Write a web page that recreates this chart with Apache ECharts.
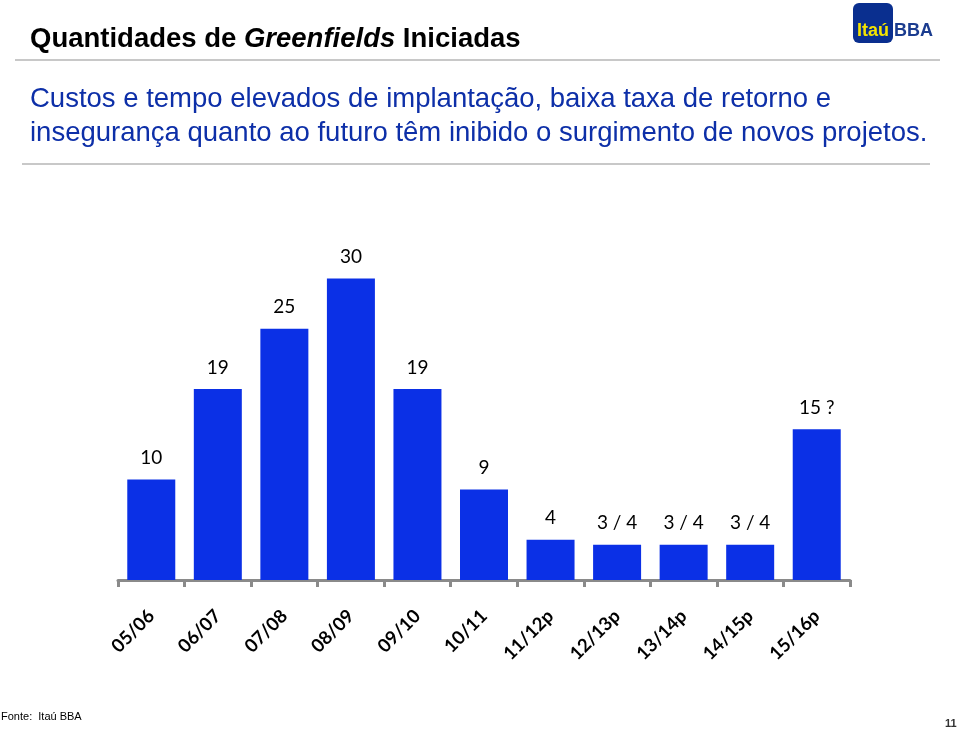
<!DOCTYPE html>
<html>
<head>
<meta charset="utf-8">
<script src="https://cdn.jsdelivr.net/npm/echarts@6/dist/echarts.min.js"></script>
<style>
html,body{margin:0;padding:0;background:#fff;}
#chart{width:960px;height:730px;}
</style>
</head>
<body>
<div id="chart"></div>
<script>
var categories = ['05/06','06/07','07/08','08/09','09/10','10/11','11/12p','12/13p','13/14p','14/15p','15/16p'];
var values = [10, 19, 25, 30, 19, 9, 4, 3.5, 3.5, 3.5, 15];
var valueLabels = ['10','19','25','30','19','9','4','3 / 4','3 / 4','3 / 4','15 ?'];

var chart = echarts.init(document.getElementById('chart'));
var option = {
  backgroundColor: '#ffffff',
  animation: false,
  title: {
    left: 30, top: 25, padding: 0,
    text: '{b|Quantidades de }{i|Greenfields}{b| Iniciadas}',
    textStyle: {
      rich: {
        b: {fontFamily: 'Liberation Sans, Arial', fontSize: 27.5, fontWeight: 'bold', color: '#000'},
        i: {fontFamily: 'Liberation Sans, Arial', fontSize: 27.5, fontWeight: 'bold', fontStyle: 'italic', color: '#000'}
      }
    }
  },
  grid: {left: 118, right: 110, top: 178, bottom: 150},
  xAxis: {
    type: 'category',
    data: categories,
    boundaryGap: true,
    axisLine: {show: true, lineStyle: {color: '#8a8a8a', width: 3}},
    axisTick: {show: true, length: 7, lineStyle: {color: '#8a8a8a', width: 3}},
    axisLabel: {rotate: 45, margin: 33, fontFamily: 'Lato, Open Sans', fontWeight: 'bold', fontSize: 18.5, color: '#000'}
  },
  yAxis: {type: 'value', min: 0, max: 40, show: false, splitLine: {show: false}},
  series: [{
    type: 'bar',
    data: values,
    barWidth: 48,
    itemStyle: {color: '#0b30e6'},
    label: {
      show: true, position: 'top', distance: 12,
      fontFamily: 'Lato, Open Sans', fontSize: 19, color: '#000',
      formatter: function (p) { return valueLabels[p.dataIndex]; }
    }
  }],
  graphic: [
    {type: 'line', shape: {x1: 15, y1: 60, x2: 940, y2: 60}, style: {stroke: '#c8c8c8', lineWidth: 2}},
    {type: 'text', left: 30, top: 82, style: {text: 'Custos e tempo elevados de implantação, baixa taxa de retorno e\ninsegurança quanto ao futuro têm inibido o surgimento de novos projetos.', font: '27.5px "Liberation Sans", Arial', fill: '#0d2fa8', lineHeight: 34}},
    {type: 'line', shape: {x1: 22, y1: 164, x2: 930, y2: 164}, style: {stroke: '#c8c8c8', lineWidth: 2}},
    {type: 'rect', shape: {x: 853, y: 3, width: 40, height: 40, r: 6}, style: {fill: '#0a2f8f'}},
    {type: 'text', x: 873, y: 31, style: {text: 'Itaú', font: 'bold 18px "Liberation Sans", Arial', fill: '#f4e400', textAlign: 'center', textVerticalAlign: 'middle'}},
    {type: 'text', x: 894, y: 31, style: {text: 'BBA', font: 'bold 18px "Liberation Sans", Arial', fill: '#1b3c8f', textVerticalAlign: 'middle'}},
    {type: 'text', left: 1, top: 711, style: {text: 'Fonte:  Itaú BBA', font: '11px "Liberation Sans", Arial', fill: '#000'}},
    {type: 'text', left: 945, top: 718, style: {text: '11', font: 'bold 11px "Liberation Sans", Arial', fill: '#333'}}
  ]
};
chart.setOption(option);
</script>
</body>
</html>
